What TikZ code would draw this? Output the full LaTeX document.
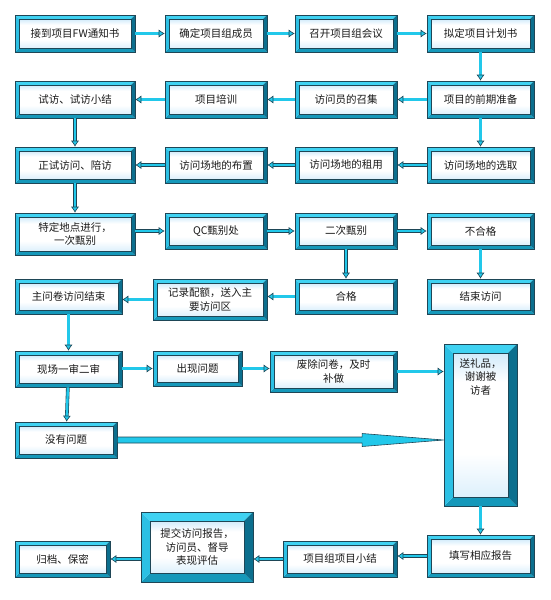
\documentclass[tikz,border=0pt]{standalone}
\usepackage{fontspec}
\setmainfont{Noto Sans CJK SC}
\usetikzlibrary{arrows.meta,calc}
\definecolor{frame}{HTML}{1E4656}
\definecolor{aqua}{HTML}{22C8EA}
\definecolor{bevtop}{HTML}{3FD2F2}
\definecolor{bevleft}{HTML}{2CC0E4}
\definecolor{bevright}{HTML}{0C6F8E}
\definecolor{bevbot}{HTML}{1598BA}
\definecolor{skyin}{HTML}{A9D9F7}
\definecolor{ink}{HTML}{1A1A1A}
\pgfdeclareverticalshading{stageshade}{100bp}{color(0bp)=(skyin!70!white); color(12bp)=(skyin!70!white);
  color(25bp)=(skyin!40!white); color(40bp)=(white); color(65bp)=(white); color(80bp)=(skyin!80!white);
  color(100bp)=(skyin)}
\tikzset{bev/.store in=\bevw,bev=4pt,
  stage/.style={rectangle,draw=frame,line width=.6pt,inner sep=0pt,align=center,text=ink,
    font=\fontsize{10.5}{13.5}\selectfont,path picture={\bevelframe}},
  flow/.style={draw=frame,double=aqua,double distance=2.4pt,line width=.6pt,
    -{Latex[length=6pt,width=8pt,fill=aqua]}}}
\newcommand{\bevelframe}{%
\coordinate (pNW) at (path picture bounding box.north west);
\coordinate (pNE) at (path picture bounding box.north east);
\coordinate (pSW) at (path picture bounding box.south west);
\coordinate (pSE) at (path picture bounding box.south east);
\fill[bevtop] (pNW)--(pNE)--([shift={(-\bevw,-\bevw)}]pNE)--([shift={(\bevw,-\bevw)}]pNW)--cycle;
\fill[bevbot] (pSW)--(pSE)--([shift={(-\bevw,\bevw)}]pSE)--([shift={(\bevw,\bevw)}]pSW)--cycle;
\fill[bevleft] (pNW)--(pSW)--([shift={(\bevw,\bevw)}]pSW)--([shift={(\bevw,-\bevw)}]pNW)--cycle;
\fill[bevright] (pNE)--(pSE)--([shift={(-\bevw,\bevw)}]pSE)--([shift={(-\bevw,-\bevw)}]pNE)--cycle;
\shade[shading=stageshade,draw=frame,line width=.4pt]
  ([shift={(\bevw,-\bevw)}]pNW) rectangle ([shift={(-\bevw,\bevw)}]pSE);}
\newcommand{\stagebox}[6][]{\node[stage,minimum width=#4pt,minimum height=#5pt,#1] (#2) at (#3) {#6};}

\begin{document}
\begin{tikzpicture}[x=1pt,y=-1pt]
\useasboundingbox (0,0) rectangle (550,600);
% row 1
\stagebox{notice}{75,33.5}{120}{37}{接到项目FW通知书}
\stagebox{team}{216,33.5}{102}{37}{确定项目组成员}
\stagebox{meeting}{346,33.5}{102}{37}{召开项目组会议}
\stagebox{plan}{480.5,33.5}{107}{37}{拟定项目计划书}
% row 2
\stagebox{trial}{75,99.5}{120}{37}{试访、试访小结}
\stagebox{training}{216,99.5}{102}{37}{项目培训}
\stagebox{recruit}{346,99.5}{102}{37}{访问员的召集}
\stagebox{prep}{480.5,99.5}{107}{37}{项目的前期准备}
% row 3
\stagebox{formal}{75,165}{120}{36}{正试访问、陪访}
\stagebox{layout}{216,165}{102}{36}{访问场地的布置}
\stagebox{rent}{346,165}{102}{36}{访问场地的租用}
\stagebox{site}{480.5,165}{107}{36}{访问场地的选取}
% row 4
\stagebox{screen}{75,234}{120}{42}{特定地点进行，\\一次甄别}
\stagebox{qc}{216,231}{102}{36}{QC甄别处}
\stagebox{second}{346,231}{102}{36}{二次甄别}
\stagebox{fail}{480.5,231}{107}{36}{不合格}
% row 5
\stagebox{mainend}{68.5,296.5}{107}{35}{主问卷访问结束}
\stagebox{quota}{210,299.5}{114}{41}{记录配额，送入主\\要访问区}
\stagebox{pass}{346,296.5}{102}{35}{合格}
\stagebox{stop}{480.5,296.5}{107}{35}{结束访问}
% row 6
\stagebox{check}{68.5,369}{107}{36}{现场一审二审}
\stagebox{issue}{197.5,368.5}{89}{35}{出现问题}
\stagebox{redo}{333.5,371.5}{127}{41}{废除问卷，及时\\补做}
\stagebox[bev=9pt]{gift}{480.5,425}{73}{162}{}
\node[anchor=north,align=center,text=ink,font=\fontsize{10.5}{13.5}\selectfont] (gifttext)
  at ([yshift=-11pt]gift.north) {送礼品，\\谢谢被\\访者};
% row 7
\stagebox{noissue}{66,440}{102}{36}{没有问题}
% row 8
\stagebox{report}{480.5,556}{107}{42}{填写相应报告}
\stagebox{summary}{340,559}{114}{36}{项目组项目小结}
\stagebox[bev=9pt]{submit}{197,547}{112}{70}{提交访问报告，\\访问员、督导\\表现评估}
\stagebox{archive}{62.5,559}{95}{36}{归档、保密}
% connectors
\draw[flow] (notice) -- (team);
\draw[flow] (team) -- (meeting);
\draw[flow] (meeting) -- (plan);
\draw[flow] (plan) -- (prep);
\draw[flow] (prep) -- (recruit);
\draw[flow] (recruit) -- (training);
\draw[flow] (training) -- (trial);
\draw[flow] (trial) -- (formal);
\draw[flow] (prep) -- (site);
\draw[flow] (site) -- (rent);
\draw[flow] (rent) -- (layout);
\draw[flow] (layout) -- (formal);
\draw[flow] (formal) -- (screen);
\draw[flow] (screen.east |- qc) -- (qc);
\draw[flow] (qc) -- (second);
\draw[flow] (second) -- (fail);
\draw[flow] (second) -- (pass);
\draw[flow] (fail) -- (stop);
\draw[flow] (pass.west) -- (pass.west -| quota.east);
\draw[flow] (quota.west) -- (quota.west -| mainend.east);
\draw[flow] (mainend) -- (check);
\draw[flow] (check.east |- issue) -- (issue);
\draw[flow] (issue.east) -- (issue.east -| redo.west);
\draw[flow] (redo.east) -- (redo.east -| gift.west);
\draw[flow] (check) -- (noissue);
\coordinate (headbase) at ($(noissue.east)!.75!(noissue.east -| gift.west)$);
\filldraw[draw=frame,fill=aqua,line width=.6pt] ([yshift=3pt]noissue.east) -- ([yshift=3pt]headbase)
  -- ([yshift=6.5pt]headbase) -- (noissue.east -| gift.west) -- ([yshift=-6.5pt]headbase)
  -- ([yshift=-3pt]headbase) -- ([yshift=-3pt]noissue.east) -- cycle;
\draw[flow] (gift) -- (report);
\draw[flow] (report.west) -- (report.west -| summary.east);
\draw[flow] (summary.west) -- (summary.west -| submit.east);
\draw[flow] (submit.west |- archive) -- (archive);
\end{tikzpicture}
\end{document}
